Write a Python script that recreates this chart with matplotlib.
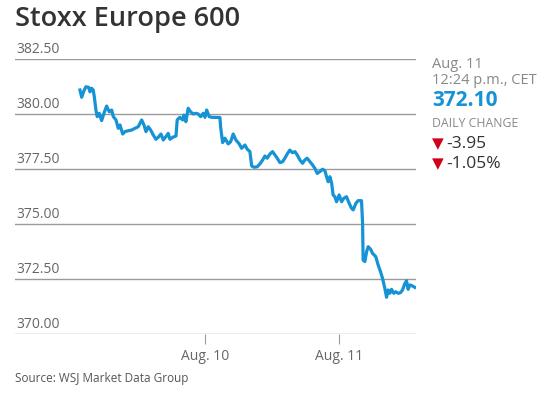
import matplotlib.pyplot as plt
import matplotlib.transforms as mtransforms

plt.rcParams['font.family'] = ['Open Sans', 'DejaVu Sans']

# time axis in day units (Aug. 10 = 10, Aug. 11 = 11), price of the index
times = [9.067, 9.080, 9.097, 9.112, 9.132, 9.142, 9.154, 9.166, 9.174, 9.187,
         9.196, 9.211, 9.229, 9.246, 9.266, 9.286, 9.304, 9.316, 9.336, 9.353,
         9.366, 9.386, 9.403, 9.428, 9.453, 9.478, 9.502, 9.528, 9.545, 9.560,
         9.577, 9.595, 9.614, 9.634, 9.651, 9.672, 9.689, 9.709, 9.726, 9.739,
         9.759, 9.784, 9.793, 9.813, 9.834, 9.843, 9.858, 9.875, 9.893, 9.913,
         9.933, 9.950, 9.968, 9.987, 10.000, 10.013, 10.032, 10.050, 10.112, 10.117,
         10.132, 10.149, 10.174, 10.192, 10.211, 10.231, 10.256, 10.274, 10.299, 10.316,
         10.336, 10.349, 10.366, 10.390, 10.410, 10.431, 10.448, 10.465, 10.485, 10.505,
         10.522, 10.540, 10.560, 10.580, 10.597, 10.614, 10.634, 10.654, 10.672, 10.689,
         10.709, 10.729, 10.746, 10.763, 10.784, 10.804, 10.821, 10.838, 10.858, 10.878,
         10.896, 10.908, 10.920, 10.933, 10.946, 10.957, 10.970, 10.983, 11.002, 11.020,
         11.037, 11.057, 11.077, 11.095, 11.107, 11.127, 11.144, 11.169, 11.177, 11.181,
         11.194, 11.207, 11.219, 11.237, 11.251, 11.276, 11.293, 11.311, 11.326, 11.343,
         11.356, 11.368, 11.381, 11.393, 11.410, 11.425, 11.443, 11.460, 11.475, 11.493,
         11.505, 11.517, 11.530, 11.550, 11.567]
prices = [381.09, 380.76, 381.06, 381.24, 381.21, 381.01, 381.17, 381.09, 380.79, 380.15,
          379.88, 380.03, 379.70, 380.03, 380.36, 380.10, 380.18, 379.88, 379.73, 379.35,
          379.50, 379.09, 379.20, 379.24, 379.27, 379.35, 379.42, 379.73, 379.50, 379.20,
          379.42, 379.27, 379.05, 378.85, 378.94, 379.09, 378.82, 378.97, 379.12, 378.85,
          378.94, 379.00, 379.73, 379.85, 379.73, 379.95, 379.65, 380.26, 380.10, 380.00,
          380.03, 380.00, 379.88, 380.03, 379.85, 380.18, 379.88, 379.85, 379.84, 379.42,
          378.70, 378.90, 378.64, 378.74, 379.09, 378.82, 378.64, 378.44, 378.59, 378.40,
          378.29, 377.64, 377.58, 377.60, 377.73, 377.91, 378.09, 377.99, 378.18, 378.29,
          378.14, 377.99, 377.79, 377.83, 377.99, 378.18, 378.36, 378.24, 378.29, 378.14,
          377.91, 377.76, 377.91, 377.99, 377.83, 377.68, 377.53, 377.30, 377.38, 377.49,
          377.42, 377.15, 376.92, 377.15, 376.85, 376.32, 376.24, 376.01, 376.32, 376.01,
          376.17, 376.24, 375.94, 375.71, 375.64, 375.94, 376.06, 376.06, 375.03, 373.36,
          373.29, 373.74, 373.97, 373.85, 373.67, 373.51, 373.14, 372.83, 372.53, 372.08,
          371.67, 372.00, 371.85, 372.03, 371.85, 371.92, 371.85, 371.88, 372.00, 372.30,
          372.42, 372.03, 372.23, 372.18, 372.12]

y_ticks = [370.0, 372.5, 375.0, 377.5, 380.0, 382.5]
x_ticks = [10, 11]
x_labels = ['Aug. 10', 'Aug. 11']

last_time = 'Aug. 11'
last_clock = '12:24 p.m., CET'
last_price = '372.10'
change_pts = '-3.95'
change_pct = '-1.05%'

blue = '#1593d4'
grid_gray = '#9a9a9a'
label_gray = '#666666'

fig = plt.figure(figsize=(5.59, 3.97), dpi=100)
ax = fig.add_axes([0.0268, 0.1587, 0.7172, 0.6927])

ax.plot(times, prices, color=blue, lw=2.3, solid_joinstyle='round')

ax.set_xlim(8.582, 11.575)
ax.set_ylim(370, 382.5)
ax.set_yticks(y_ticks)
ax.set_yticklabels([])
ax.tick_params(axis='y', length=0)
ax.grid(axis='y', color=grid_gray, lw=1)
ax.set_axisbelow(True)
for s in ax.spines.values():
    s.set_visible(False)

ax.set_xticks(x_ticks)
ax.set_xticklabels(x_labels, fontsize=10, color=label_gray)
ax.tick_params(axis='x', length=7, width=0.8, color=grid_gray, pad=4)

trans = mtransforms.blended_transform_factory(ax.transAxes, ax.transData)
for v in y_ticks:
    ax.text(0.003, v + 0.1, f'{v:.2f}', transform=trans, fontsize=10,
            color=label_gray, ha='left', va='bottom')

fig.text(0.027, 0.935, 'Stoxx Europe 600', fontsize=19.5, fontweight='semibold',
         color='#333333', ha='left', va='baseline')

# right-hand info panel
px = 432 / 559
fig.text(px, 1 - 68 / 397, last_time, fontsize=10.5, color='#888888', va='baseline')
fig.text(px, 1 - 84 / 397, last_clock, fontsize=10.5, color='#888888', va='baseline')
fig.text(px, 1 - 106 / 397, last_price, fontsize=15, fontweight='bold',
         color=blue, va='baseline')
fig.text(px, 1 - 127 / 397, 'DAILY CHANGE', fontsize=8.8, color='#888888',
         va='baseline')
for val, yb in [(change_pts, 148), (change_pct, 168)]:
    fig.text(px, 1 - yb / 397, '\u25bc', fontsize=11, color='#d0021b',
             va='baseline', family=['DejaVu Sans'])
    fig.text(px + 14 / 559, 1 - yb / 397, val, fontsize=12.5, color='#333333',
             va='baseline')

fig.text(0.027, 1 - 382 / 397, 'Source: WSJ Market Data Group', fontsize=8.5,
         color='#555555', ha='left', va='baseline')

fig.savefig('out.png', dpi=100)
